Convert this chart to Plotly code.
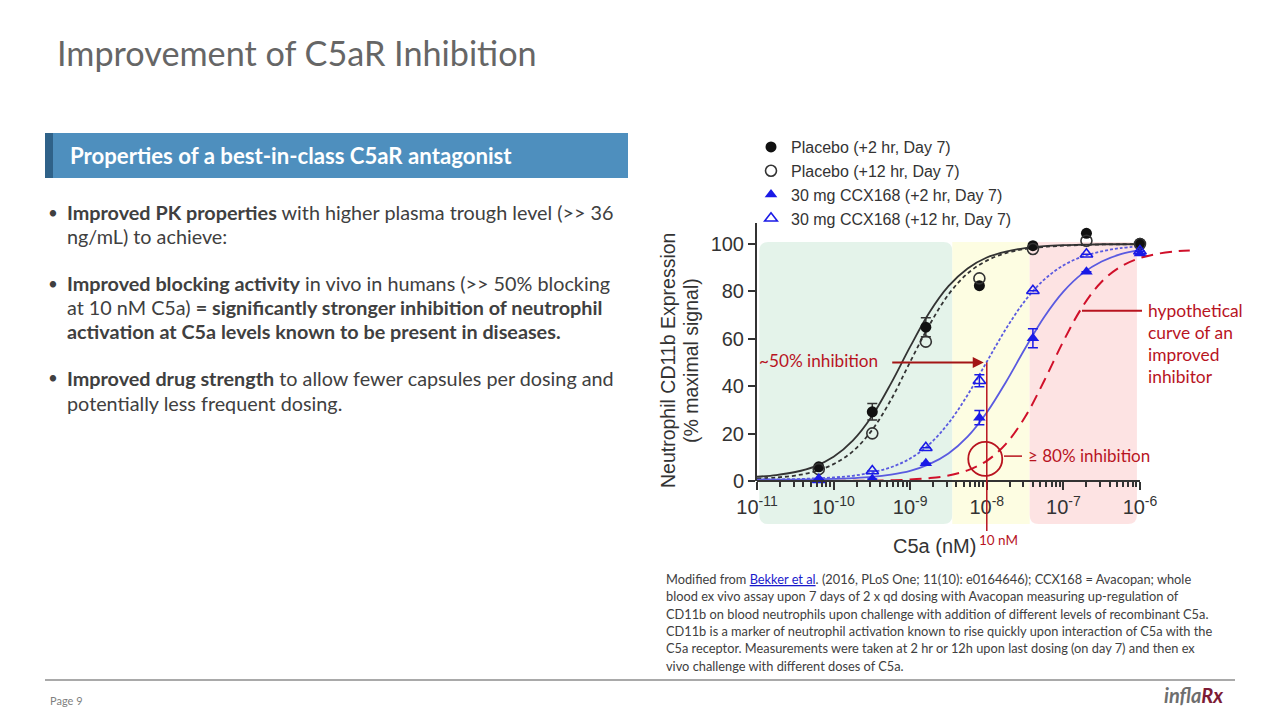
import plotly.graph_objects as go

# C5a concentrations of the measured points (5-fold dilution series)
conc = [6.4e-11, 3.2e-10, 1.6e-9, 8e-9, 4e-8, 2e-7, 1e-6]
placebo_2h = [6.0, 29.2, 64.9, 82.4, 99.3, 104.5, 100.3]
placebo_2h_err = [0, 3.5, 4.0, 0, 0, 0, 0]
placebo_12h = [5.0, 20.1, 58.8, 85.5, 97.9, 101.4, 100.0]
ccx_2h = [0.3, 0.8, 7.5, 26.7, 60.2, 88.3, 96.0]
ccx_2h_err = [0, 0, 0, 3.0, 4.0, 0, 0]
ccx_12h = [0.5, 4.2, 14.0, 42.3, 80.3, 95.7, 97.0]
ccx_12h_err = [0, 0, 0, 2.5, 0, 0, 0]

# fitted curves
fit_conc = [1e-11, 1.78e-11, 3.16e-11, 5.62e-11, 1e-10, 1.78e-10, 3.16e-10, 5.62e-10,
            1e-9, 1.78e-9, 3.16e-9, 5.62e-9, 1e-8, 1.78e-8, 3.16e-8, 5.62e-8,
            1e-7, 1.78e-7, 3.16e-7, 5.62e-7, 1e-6]
fit_placebo_2h = [1.8, 2.5, 3.8, 6.1, 10.2, 17.0, 27.3, 41.2, 56.7, 71.1, 82.2, 89.7,
                  94.3, 96.8, 98.3, 99.1, 99.5, 99.7, 99.9, 99.9, 100.0]
fit_placebo_12h = [1.0, 1.5, 2.3, 4.0, 7.1, 12.5, 21.4, 34.3, 50.3, 65.8, 78.7, 87.6,
                   93.0, 96.2, 97.9, 98.8, 99.3, 99.6, 99.8, 99.9, 99.9]
fit_ccx_12h = [0.6, 0.7, 0.8, 1.1, 1.5, 2.2, 3.6, 5.8, 9.5, 15.5, 24.4, 36.3,
               50.3, 64.2, 76.1, 85.0, 91.0, 94.7, 96.9, 98.3, 99.0]
fit_ccx_2h = [0.5, 0.6, 0.6, 0.7, 0.9, 1.2, 1.7, 2.7, 4.3, 7.1, 11.6, 18.7,
              28.9, 41.8, 55.9, 69.2, 79.9, 87.6, 92.6, 95.7, 97.5]

hyp_conc = [1e-10, 1.78e-10, 3.16e-10, 5.62e-10, 1e-9, 1.78e-9, 3.16e-9, 5.62e-9,
            1e-8, 1.78e-8, 3.16e-8, 5.62e-8, 1e-7, 1.78e-7, 3.16e-7, 5.62e-7,
            1e-6, 1.78e-6, 3.16e-6, 4.47e-6]
hyp_curve = [0.0, 0.1, 0.1, 0.3, 0.6, 1.2, 2.3, 4.5, 8.5, 15.7, 27.0, 42.3,
             59.0, 73.6, 84.1, 90.5, 94.1, 96.0, 97.0, 97.3]

x_ticks = [1e-11, 1e-10, 1e-9, 1e-8, 1e-7, 1e-6]
x_ticktext = ["10<sup>-11</sup>", "10<sup>-10</sup>", "10<sup>-9</sup>",
              "10<sup>-8</sup>", "10<sup>-7</sup>", "10<sup>-6</sup>"]
y_ticks = [0, 20, 40, 60, 80, 100]

# shaded zones (log10 of C5a), green / yellow / pink
zone_bounds = [-10.97, -8.45, -7.44, -6.04]

W, H = 1280, 720
OFF = 8  # page body margin the figure sits in

def px(x): return (x - OFF) / W
def py(y): return 1 - (y - OFF) / H

# plot area in slide pixels
XL, XR = 757, 1193.6
YB, YT = 481, 222.7
XR_LOG = [-11, -5.3]
YR = [0, 109]

def lx_to_paper(lx):
    return px(XL + (lx - XR_LOG[0]) / (XR_LOG[1] - XR_LOG[0]) * (XR - XL))

def yv_to_paper(v):
    return py(YB - (v - YR[0]) / (YR[1] - YR[0]) * (YB - YT))

def rounded(x0, x1, ytop, ybot, r):
    # paper-coordinate rounded rectangle path
    y0, y1 = py(ybot), py(ytop)
    rx, ry = r / W, r / H
    return (f"M {x0+rx},{y0} L {x1-rx},{y0} Q {x1},{y0} {x1},{y0+ry} "
            f"L {x1},{y1-ry} Q {x1},{y1} {x1-rx},{y1} L {x0+rx},{y1} "
            f"Q {x0},{y1} {x0},{y1-ry} L {x0},{y0+ry} Q {x0},{y0} {x0+rx},{y0} Z")

DARK = "#333333"
BLUE = "#1a1ae6"
BLUE_LINE = "#5a5ae0"
RED = "#b8141f"
RED_DASH = "#d0102a"

fig = go.Figure()

# fitted curves
fig.add_trace(go.Scatter(x=fit_conc, y=fit_placebo_2h, mode="lines", line_shape="spline",
                         line=dict(color=DARK, width=1.8), showlegend=False, hoverinfo="skip"))
fig.add_trace(go.Scatter(x=fit_conc, y=fit_placebo_12h, mode="lines", line_shape="spline",
                         line=dict(color=DARK, width=1.8, dash="4px,3px"), showlegend=False, hoverinfo="skip"))
fig.add_trace(go.Scatter(x=fit_conc, y=fit_ccx_12h, mode="lines", line_shape="spline",
                         line=dict(color=BLUE_LINE, width=1.8, dash="3px,2px"), showlegend=False, hoverinfo="skip"))
fig.add_trace(go.Scatter(x=fit_conc, y=fit_ccx_2h, mode="lines", line_shape="spline",
                         line=dict(color=BLUE_LINE, width=1.8), showlegend=False, hoverinfo="skip"))
fig.add_trace(go.Scatter(x=hyp_conc, y=hyp_curve, mode="lines", line_shape="spline",
                         line=dict(color=RED_DASH, width=2, dash="12px,7px"), showlegend=False, hoverinfo="skip"))

# measured points
def err(a, c):
    return dict(type="data", array=a, visible=True, color=c, thickness=1.5, width=5)

fig.add_trace(go.Scatter(x=conc, y=placebo_2h, mode="markers", name="Placebo (+2 hr, Day 7)",
                         marker=dict(symbol="circle", size=11, color="#111111"),
                         error_y=err(placebo_2h_err, DARK), cliponaxis=False))
fig.add_trace(go.Scatter(x=conc, y=placebo_12h, mode="markers", name="Placebo (+12 hr, Day 7)",
                         marker=dict(symbol="circle-open", size=11, color=DARK, line=dict(width=1.6)),
                         cliponaxis=False))
fig.add_trace(go.Scatter(x=conc, y=ccx_2h, mode="markers", name="30 mg CCX168 (+2 hr, Day 7)",
                         marker=dict(symbol="triangle-up", size=11, color=BLUE),
                         error_y=err(ccx_2h_err, BLUE), cliponaxis=False))
fig.add_trace(go.Scatter(x=conc, y=ccx_12h, mode="markers", name="30 mg CCX168 (+12 hr, Day 7)",
                         marker=dict(symbol="triangle-up-open", size=11, color=BLUE, line=dict(width=1.6)),
                         error_y=err(ccx_12h_err, BLUE), cliponaxis=False))

minor_ticks = [m * 10.0 ** e for e in range(-11, -6) for m in range(2, 10)]

shapes = []
# shaded zones
zone_cols = ["#e4f3ea", "#fdfde2", "#fde3e3"]
for i, c in enumerate(zone_cols):
    x0 = lx_to_paper(zone_bounds[i])
    x1 = lx_to_paper(zone_bounds[i + 1])
    r = 0 if i == 1 else 9
    shapes.append(dict(type="path", xref="paper", yref="paper", path=rounded(x0, x1, 242, 524, r),
                       fillcolor=c, line=dict(width=0), layer="below"))
# x axis line (axis itself runs further right for the dashed curve)
shapes.append(dict(type="line", xref="paper", yref="paper", x0=lx_to_paper(-11), x1=lx_to_paper(-6),
                   y0=py(YB), y1=py(YB), line=dict(color=DARK, width=2)))
# 10 nM marker line
shapes.append(dict(type="line", xref="paper", yref="paper", x0=lx_to_paper(-8), x1=lx_to_paper(-8),
                   y0=py(531), y1=yv_to_paper(50), line=dict(color=RED, width=1.5)))
# circle at >=80% inhibition
shapes.append(dict(type="circle", xref="paper", yref="paper",
                   x0=lx_to_paper(-8.02) - 17 / W, x1=lx_to_paper(-8.02) + 17 / W,
                   y0=yv_to_paper(9.3) - 17 / H, y1=yv_to_paper(9.3) + 17 / H,
                   line=dict(color=RED, width=1.8)))
shapes.append(dict(type="line", xref="paper", yref="paper", x0=px(1004), x1=px(1022),
                   y0=yv_to_paper(10.5), y1=yv_to_paper(10.5), line=dict(color=RED, width=1.5)))
# hypothetical curve pointer
shapes.append(dict(type="line", xref="paper", yref="paper", x0=px(1082), x1=px(1142),
                   y0=py(310.7), y1=py(310.7), line=dict(color=RED, width=2)))

# slide furniture
shapes.append(dict(type="rect", xref="paper", yref="paper", x0=px(45), x1=px(628), y0=py(178), y1=py(133),
                   fillcolor="#4e8fbe", line=dict(width=0)))
shapes.append(dict(type="rect", xref="paper", yref="paper", x0=px(45), x1=px(53), y0=py(178), y1=py(133),
                   fillcolor="#2f6289", line=dict(width=0)))
shapes.append(dict(type="line", xref="paper", yref="paper", x0=px(45), x1=px(1235), y0=py(680), y1=py(680),
                   line=dict(color="#8c8c8c", width=1.5)))

TXT = "#404040"
FONT = "Lato"
ann = []

def label(x, y, text, size, color=TXT, xanchor="left", family=FONT, **kw):
    ann.append(dict(x=px(x), y=py(y), xref="paper", yref="paper", text=text, showarrow=False,
                    xanchor=xanchor, yanchor="middle", align=xanchor if xanchor != "center" else "center",
                    font=dict(family=family, size=size, color=color), **kw))

label(55, 52, "Improvement of C5aR Inhibition", 34.2, color="#666666")
label(68, 156, "<b>Properties of a best-in-class C5aR antagonist</b>", 22.2, color="white")

bullet_lines = [
    (212, "<b>Improved PK properties</b> with higher plasma trough level (>> 36", True),
    (236, "ng/mL) to achieve:", False),
    (283, "<b>Improved blocking activity</b> in vivo in humans (>> 50% blocking", True),
    (307, "at 10 nM C5a) <b>= significantly stronger inhibition of neutrophil</b>", False),
    (331, "<b>activation at C5a levels known to be present in diseases.</b>", False),
    (378, "<b>Improved drug strength</b> to allow fewer capsules per dosing and", True),
    (403, "potentially less frequent dosing.", False),
]
for y, t, b in bullet_lines:
    label(65, y, t, 19.8)
    if b:
        label(46, y, "•", 17)

caption_lines = [
    'Modified from <span style="color:#1a1acc;text-decoration:underline">Bekker et al</span>. '
    '(2016, PLoS One; 11(10): e0164646); CCX168 = Avacopan; whole',
    "blood ex vivo assay upon 7 days of 2 x qd dosing with Avacopan measuring up-regulation of",
    "CD11b on blood neutrophils upon challenge with addition of different levels of recombinant C5a.",
    "CD11b is a marker of neutrophil activation known to rise quickly upon interaction of C5a with the",
    "C5a receptor. Measurements were taken at 2 hr or 12h upon last dosing (on day 7) and then ex",
    "vivo challenge with different doses of C5a.",
]
for i, t in enumerate(caption_lines):
    label(664, 579 + i * 17.3, t, 12.8)

label(48, 700, "Page 9", 11, color="#7f7f7f")
label(1162, 695, '<b><i>infla<span style="color:#7d1b35">Rx</span></i></b>', 20, color="#6e6e6e")

# chart annotations
label(934, 546, "C5a (nM)", 20, color=DARK, xanchor="center", family="Liberation Sans")
for xx, t in [(668, "Neutrophil CD11b Expression"), (691, "(% maximal signal)")]:
    ann.append(dict(x=px(xx), y=py(361), xref="paper", yref="paper", showarrow=False, textangle=-90,
                    text=t, font=dict(family="Liberation Sans", size=19.5, color=DARK)))
label(880, 360, "~50% inhibition", 17.2, color=RED, xanchor="right")
ann.append(dict(x=-8.04, y=50, xref="x", yref="y", ax=-93, ay=0, text="", showarrow=True,
                arrowhead=2, arrowsize=1.1, arrowwidth=2, arrowcolor="#a31515"))
label(1026, 455, "≥ 80% inhibition", 17, color=RED)
for i, t in enumerate(["hypothetical", "curve of an", "improved", "inhibitor"]):
    label(1146, 310 + i * 22.3, t, 17.4, color=RED)
label(998, 540, "10 nM", 13.5, color=RED, xanchor="center")

fig.update_layout(
    width=W, height=H, margin=dict(l=0, r=0, t=0, b=0, autoexpand=False),
    paper_bgcolor="white", plot_bgcolor="rgba(0,0,0,0)",
    showlegend=True,
    legend=dict(x=px(751), y=py(130), xanchor="left", yanchor="top", bgcolor="rgba(0,0,0,0)",
                font=dict(family="Liberation Sans", size=16, color=DARK),
                itemwidth=30, traceorder="normal"),
    xaxis=dict(type="log", domain=[px(XL), px(XR)], range=XR_LOG, tickvals=x_ticks, ticktext=x_ticktext,
               ticks="outside", ticklen=8, tickwidth=1.5, tickcolor=DARK, showline=False,
               showgrid=False, zeroline=False, automargin=False,
               tickfont=dict(family="Liberation Sans", size=20, color=DARK),
               minor=dict(tickvals=minor_ticks, ticks="outside", ticklen=5, tickwidth=1.5, tickcolor=DARK)),
    yaxis=dict(domain=[py(YB), py(YT)], range=YR, tickvals=y_ticks, ticks="outside", ticklen=7,
               tickwidth=1.5, tickcolor=DARK, showline=True, linewidth=2, linecolor=DARK,
               showgrid=False, zeroline=False, automargin=False,
               tickfont=dict(family="Liberation Sans", size=20, color=DARK)),
    shapes=shapes, annotations=ann,
)

fig.write_html("out.html")
